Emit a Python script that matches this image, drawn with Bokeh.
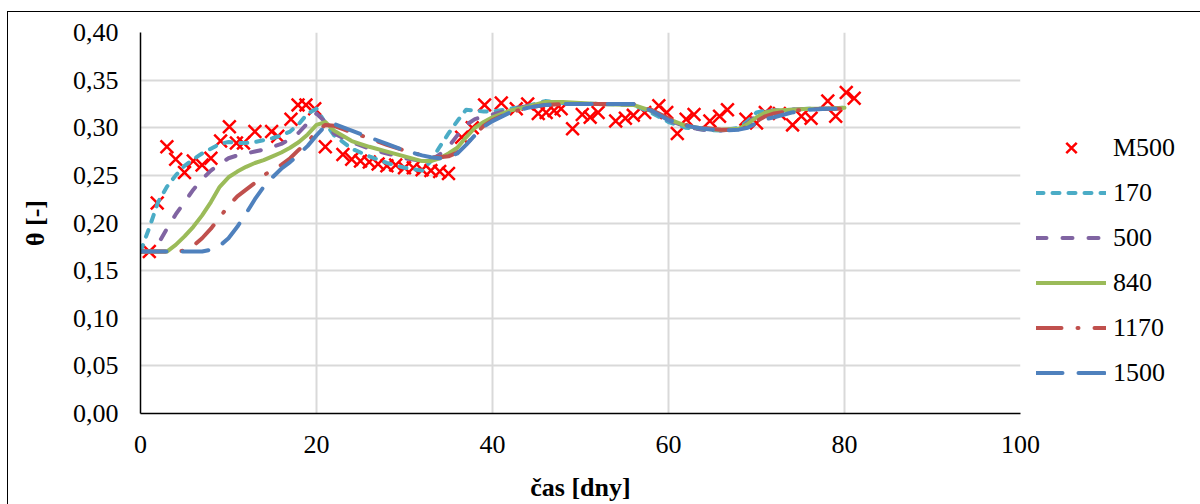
import numpy as np
from bokeh.plotting import figure
from bokeh.models import (Legend, LegendItem, FixedTicker, CustomJSTickFormatter,
                          ColumnDataSource)
from bokeh.embed import file_html
from bokeh.resources import INLINE

NAN = float("nan")

X_TICKS = [0, 20, 40, 60, 80, 100]
Y_TICKS = [0.0, 0.05, 0.10, 0.15, 0.20, 0.25, 0.30, 0.35, 0.40]

M500_DAYS = [1.0, 1.9, 3.0, 4.0, 5.0, 6.0, 7.0, 8.0, 9.1, 10.1, 10.9, 11.7, 13.0, 14.9, 15.6,
             17.1, 17.9, 18.8, 19.8, 21.0, 23.0, 24.0, 25.0, 26.0, 27.0, 28.0, 29.0, 30.0,
             31.0, 32.0, 33.0, 34.0, 35.0, 36.5, 37.7, 39.1, 41.0, 42.7, 44.0, 45.2, 46.1,
             47.0, 47.8, 49.1, 50.2, 51.1, 52.0, 54.0, 55.1, 56.0, 57.3, 58.9, 59.8, 61.0,
             62.0, 62.9, 64.7, 65.8, 66.7, 68.8, 70.0, 71.0, 72.6, 74.1, 75.1, 76.2, 78.1,
             79.0, 80.2, 81.1]
M500_THETA = [0.170, 0.221, 0.280, 0.267, 0.253, 0.265, 0.261, 0.268, 0.286, 0.301, 0.284,
              0.284, 0.296, 0.296, 0.291, 0.309, 0.324, 0.324, 0.320, 0.280, 0.272, 0.267,
              0.265, 0.264, 0.262, 0.260, 0.261, 0.258, 0.258, 0.256, 0.255, 0.254, 0.252,
              0.290, 0.300, 0.324, 0.326, 0.320, 0.325, 0.315, 0.316, 0.318, 0.320, 0.299,
              0.314, 0.311, 0.316, 0.307, 0.310, 0.313, 0.316, 0.323, 0.316, 0.294, 0.309,
              0.314, 0.307, 0.312, 0.319, 0.309, 0.305, 0.316, 0.315, 0.303, 0.312, 0.310,
              0.328, 0.312, 0.337, 0.331]

MODEL_DAYS = [0, 1, 2, 3, 4, 5, 6, 7, 8, 9, 10, 11, 12, 13, 14, 15, 16, 17, 18, 19, 20, 21, 22,
              24, 26, 28, 30, 32, 33, 34, 35, 36, 37, 38, 39, 40, 42, 44, 46, 48,
              52, 56, 58, 60, 62, 64, 66, 68, 69, 70, 71, 72, 74, 76, 78, 80, 81]

S170 = [0.170, 0.195, 0.222, 0.238, 0.250, 0.260, 0.267, 0.273, 0.278, 0.283, 0.285, 0.284,
        0.284, 0.285, 0.287, 0.289, 0.292, 0.296, 0.304, 0.315, 0.320, 0.305, 0.292,
        0.278, 0.270, 0.263, 0.258, 0.255,
        0.265, 0.280, 0.294, 0.307, 0.319, 0.318, 0.317, 0.317,
        0.320, 0.323, 0.328, 0.326,
        0.325, 0.324, 0.316, 0.306, 0.300, 0.298, 0.297, 0.300,
        0.307, 0.316, 0.318, 0.318,
        0.319, 0.320, 0.320, 0.321, NAN]
S500 = [0.170, 0.170, 0.178, 0.194, 0.209, 0.222, 0.235, 0.246, 0.255, 0.262, 0.268, 0.271,
        0.273, 0.275, 0.277, 0.280, 0.283, 0.288, 0.295, 0.305, 0.315, 0.306, 0.294,
        0.285, 0.278, 0.273, 0.268, 0.265,
        0.266, 0.272, 0.280, 0.292, 0.303, 0.309, 0.312, 0.314,
        0.319, 0.323, 0.327, 0.326,
        0.325, 0.324, 0.318, 0.308, 0.301, 0.298, 0.297, 0.299,
        0.305, 0.313, 0.317, 0.318,
        0.319, 0.320, 0.320, 0.321, NAN]
S840 = [0.170, 0.170, 0.170, 0.170, 0.177, 0.186, 0.196, 0.208, 0.222, 0.238, 0.248, 0.254,
        0.259, 0.263, 0.266, 0.270, 0.274, 0.279, 0.285, 0.293, 0.303, 0.306, 0.297,
        0.286, 0.280, 0.275, 0.270, 0.265,
        0.265, 0.268, 0.273, 0.279, 0.290, 0.300, 0.306, 0.311,
        0.318, 0.322, 0.327, 0.327,
        0.325, 0.324, 0.318, 0.309, 0.302, 0.299, 0.298, 0.299,
        0.304, 0.311, 0.316, 0.318,
        0.319, 0.320, 0.320, 0.321, NAN]
S1170 = [0.170, 0.170, 0.170, 0.170, 0.170, 0.171, 0.176, 0.184, 0.194, 0.206, 0.218, 0.228,
         0.235, 0.242, 0.250, 0.256, 0.261, 0.268, 0.277, 0.285, 0.296, 0.303, 0.302,
         0.295, 0.289, 0.282, 0.276, 0.271,
         0.269, 0.269, 0.270, 0.274, 0.282, 0.293, 0.302, 0.308,
         0.316, 0.321, 0.324, 0.325,
         0.325, 0.325, 0.319, 0.310, 0.303, 0.300, 0.298, 0.298,
         0.301, 0.307, 0.312, 0.315,
         0.318, 0.319, 0.320, 0.320, 0.320]
S1500 = [0.170, 0.170, 0.170, 0.170, 0.170, 0.170, 0.170, 0.170, 0.172, 0.176, 0.184, 0.196,
         0.210, 0.225, 0.238, 0.248, 0.257, 0.264, 0.272, 0.281, 0.292, 0.302, 0.304,
         0.297, 0.290, 0.283, 0.276, 0.271,
         0.269, 0.268, 0.269, 0.273, 0.282, 0.292, 0.301, 0.307,
         0.316, 0.321, 0.324, 0.325,
         0.325, 0.325, 0.318, 0.308, 0.302, 0.299, 0.297, 0.298,
         0.300, 0.305, 0.309, 0.311,
         0.316, 0.319, 0.320, 0.320, NAN]

SERIES = [
    ("170", S170, "#4BACC6", "7 9"),
    ("500", S500, "#8064A2", "10 16"),
    ("840", S840, "#9BBB59", "solid"),
    ("1170", S1170, "#C0504D", "25 16 1 16"),
    ("1500", S1500, "#4F81BD", "26 16"),
]

FONT = "Liberation Serif"

p = figure(frame_width=880, frame_height=381,
           min_border_left=132, min_border_right=175, min_border_top=20, min_border_bottom=86,
           x_range=(0, 100), y_range=(0, 0.40),
           output_backend="svg", toolbar_location=None)
p.outline_line_color = None
p.background_fill_color = "white"
p.border_fill_color = "white"
p.styles = {"margin-left": "7px", "margin-top": "11px",
            "border-left": "1.5px solid black", "border-top": "1.5px solid black"}

items = []
r = p.scatter(M500_DAYS, M500_THETA, marker="x", size=18, line_color="#FF0000", line_width=2.5)
items.append(LegendItem(label="M500", renderers=[r]))

for name, vals, color, dash in SERIES:
    src = ColumnDataSource(dict(x=np.array(MODEL_DAYS, dtype=float), y=np.array(vals, dtype=float)))
    r = p.line("x", "y", source=src, line_color=color, line_width=4, line_dash=dash,
               line_cap="round", line_join="round")
    items.append(LegendItem(label=name, renderers=[r]))

p.xaxis.ticker = FixedTicker(ticks=X_TICKS)
p.yaxis.ticker = FixedTicker(ticks=Y_TICKS)
p.yaxis.formatter = CustomJSTickFormatter(code="return tick.toFixed(2).replace('.', ',');")
for ax in (p.xaxis[0], p.yaxis[0]):
    ax.major_tick_line_color = None
    ax.minor_tick_line_color = None
    ax.axis_line_color = "black"
    ax.axis_line_width = 1.5
    ax.major_label_text_font = FONT
    ax.major_label_text_font_size = "26px"
    ax.major_label_text_color = "black"
    ax.axis_label_text_font = FONT
    ax.axis_label_text_font_size = "26px"
    ax.axis_label_text_font_style = "bold"
    ax.axis_label_text_color = "black"
p.xaxis.axis_label = "čas [dny]"
p.yaxis.axis_label = "θ [-]"
p.xaxis.major_label_standoff = 16
p.yaxis.major_label_standoff = 16
p.xaxis.axis_label_standoff = 17
p.yaxis.axis_label_standoff = 20

p.xgrid.grid_line_color = "#D9D9D9"
p.ygrid.grid_line_color = "#D9D9D9"
p.xgrid.grid_line_width = 2
p.ygrid.grid_line_width = 2

legend = Legend(items=items, location=(16, 22), orientation="vertical")
legend.label_text_font = FONT
legend.label_text_font_size = "26px"
legend.label_text_color = "black"
legend.glyph_width = 70
legend.glyph_height = 37
legend.label_standoff = 7
legend.spacing = 8
legend.padding = 0
legend.margin = 0
legend.border_line_color = None
legend.background_fill_alpha = 0
p.add_layout(legend, "right")

open("out.html", "w").write(file_html(p, INLINE))
